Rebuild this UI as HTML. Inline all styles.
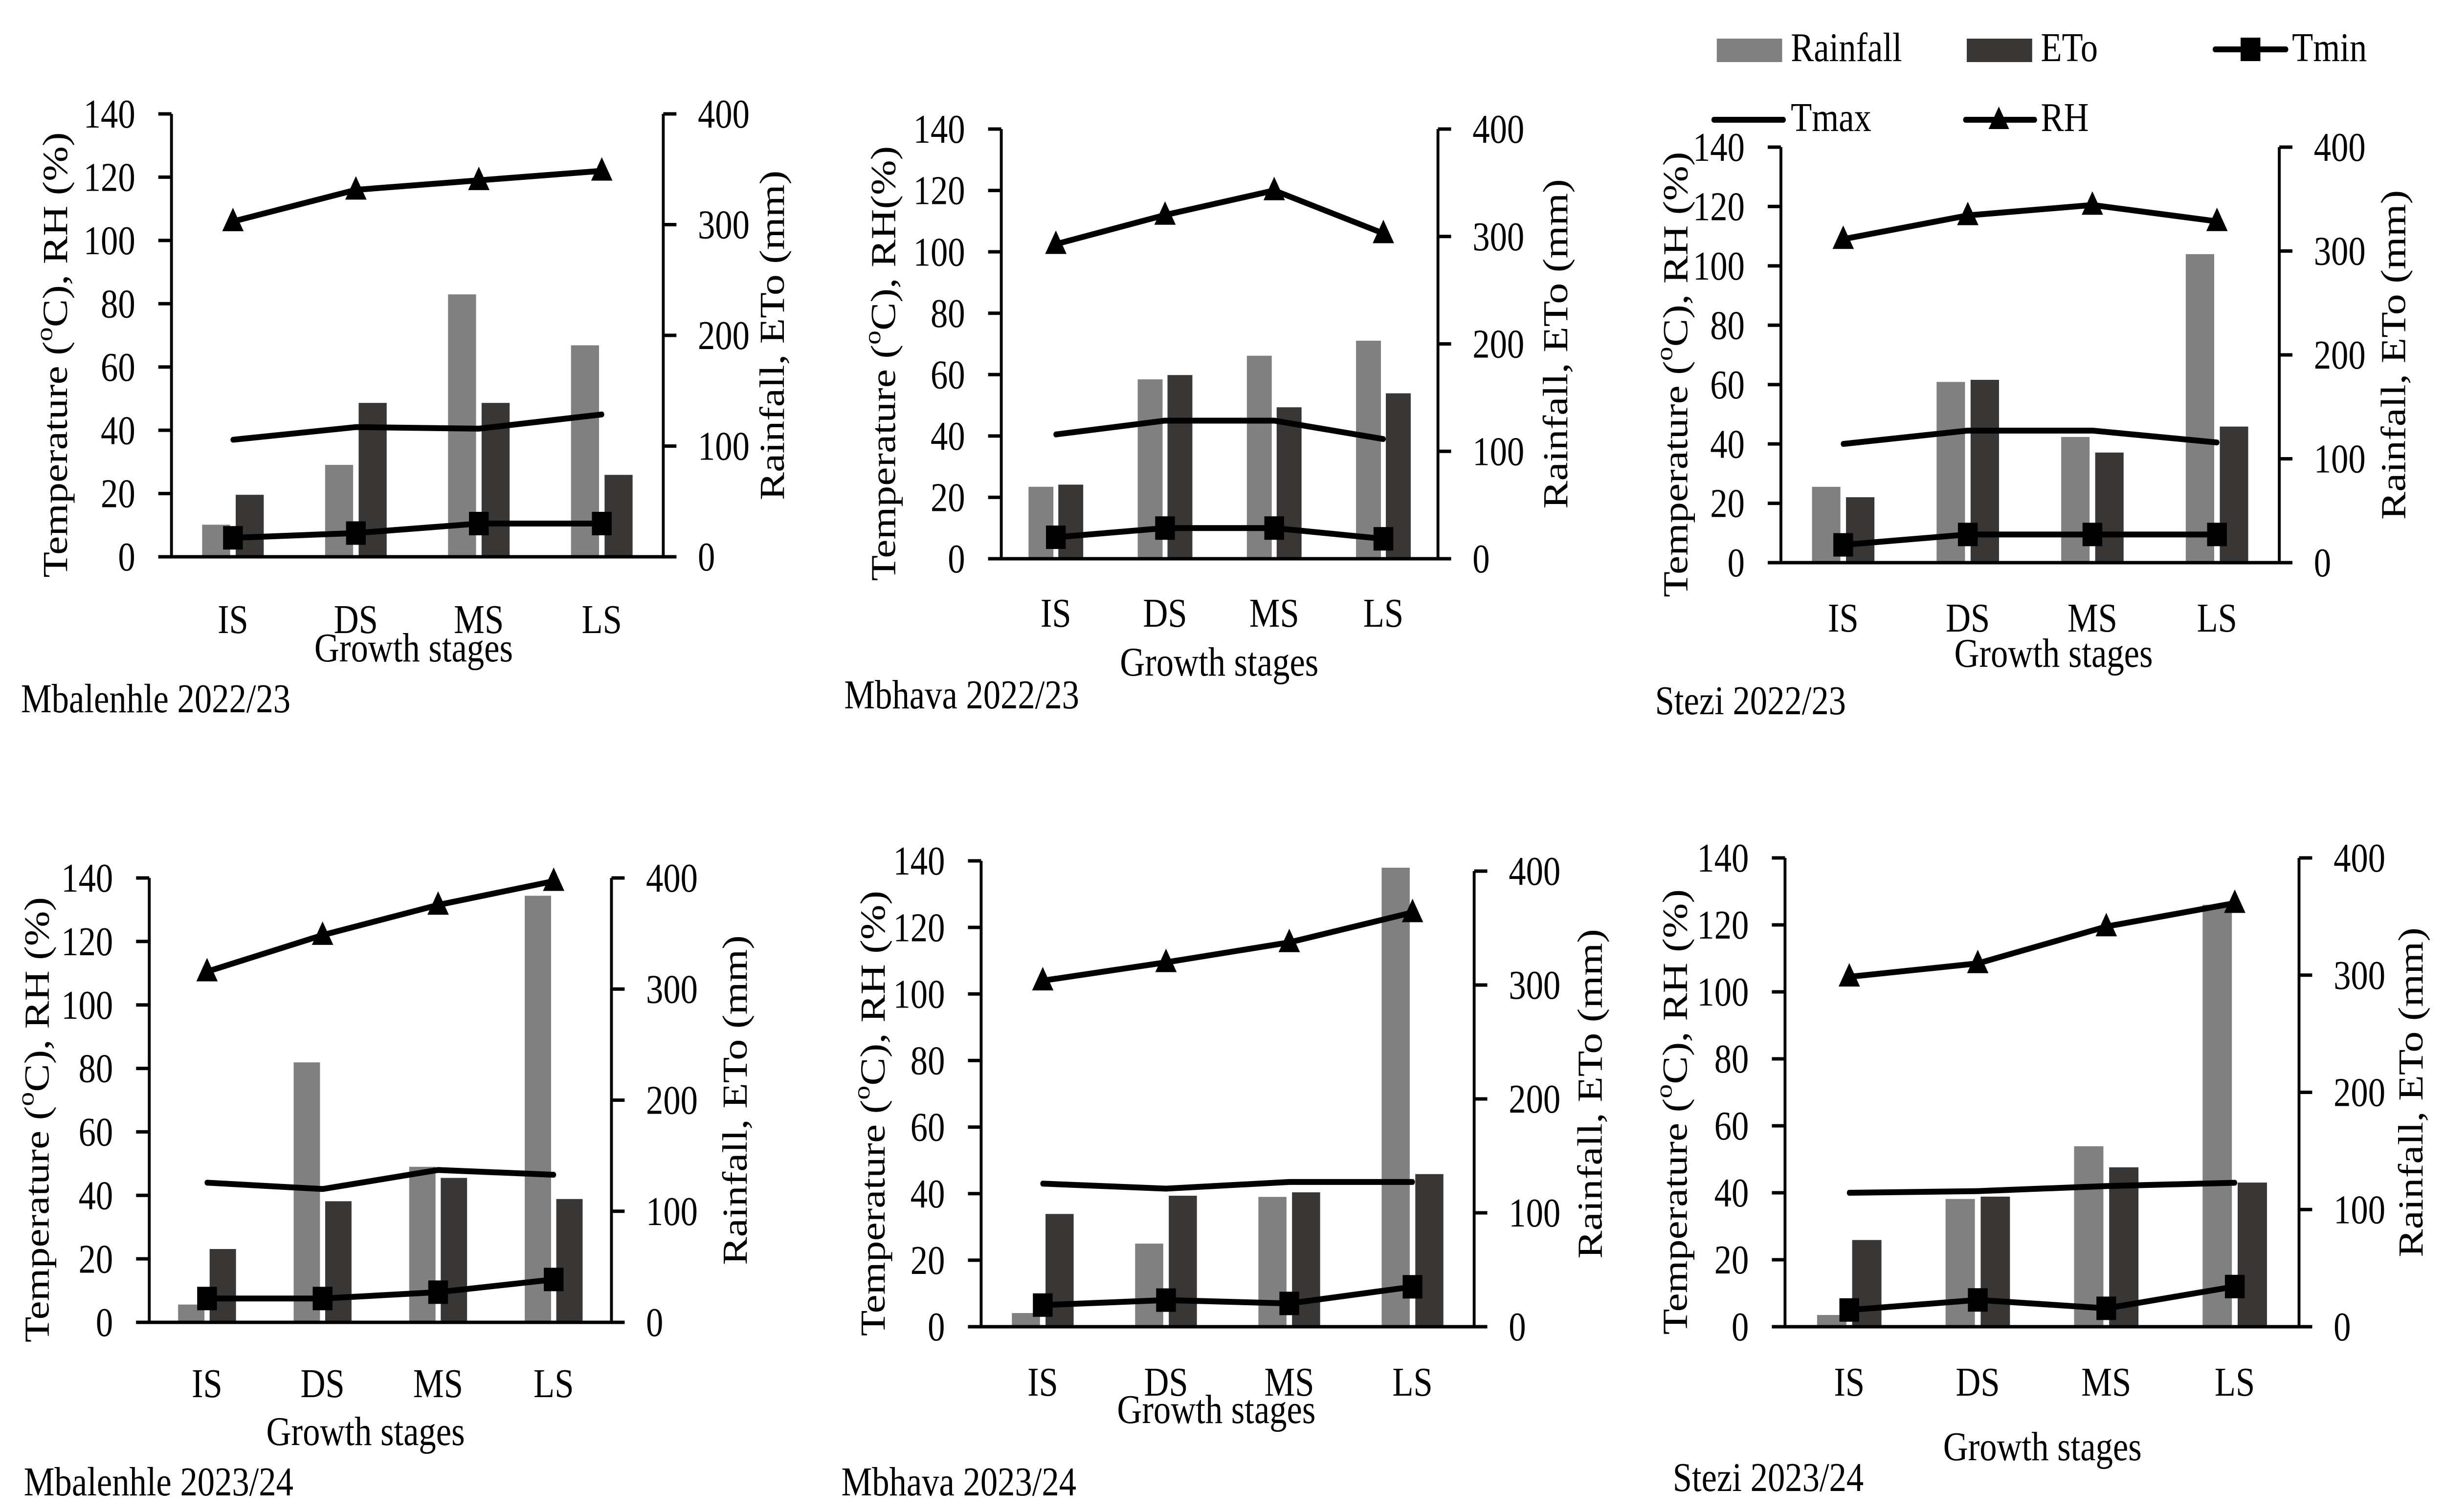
<!DOCTYPE html>
<html><head><meta charset="utf-8"><style>html,body{margin:0;padding:0;background:#fff;width:100%;height:100%;overflow:hidden}svg{display:block;width:100vw;height:100vh}text{font-family:"Liberation Serif",serif;fill:#000}</style></head>
<body>
<svg id="fig" xmlns="http://www.w3.org/2000/svg" viewBox="0 0 5946 3093" preserveAspectRatio="none">
<rect width="5946" height="3093" fill="#fff"/>
<g id="legend">
 <rect x="4175" y="79" width="159" height="48" fill="#808080"/>
 <text x="4355" y="125" font-size="84">Rainfall</text>
 <rect x="4783" y="79" width="159" height="48" fill="#383735"/>
 <text x="4963" y="125" font-size="84">ETo</text>
 <line x1="5387" y1="101" x2="5559" y2="101" stroke="#000" stroke-width="12" stroke-linecap="round"/>
 <rect x="5449" y="77" width="48" height="48" fill="#000"/>
 <text x="5574" y="125" font-size="84">Tmin</text>
 <line x1="4168" y1="245" x2="4337" y2="245" stroke="#000" stroke-width="12" stroke-linecap="round"/>
 <text x="4355" y="268" font-size="84">Tmax</text>
 <line x1="4780" y1="245" x2="4948" y2="245" stroke="#000" stroke-width="12" stroke-linecap="round"/>
 <polygon points="4861,218 4886,264 4836,264" fill="#000"/>
 <text x="4963" y="268" font-size="84">RH</text>
</g>
</svg>
<script>
const categories = ["IS","DS","MS","LS"];
const leftTicks = [0,20,40,60,80,100,120,140];
const rightTicks = [0,100,200,300,400];
// Panel 1 Mbalenhle 2022/23
const rain1 = [29,83,237,191];
const eto1 = [56,139,139,74];
const tmax1 = [37,41,40.5,45];
const tmin1 = [6,7.5,10.5,10.5];
const rh1 = [106,116,119,122];
// Panel 2 Mbhava 2022/23
const rain2 = [67,167,189,203];
const eto2 = [69,171,141,154];
const tmax2 = [40.5,45,45,39];
const tmin2 = [7,10,10,6.5];
const rh2 = [102.5,112,120,106];
// Panel 3 Stezi 2022/23
const rain3 = [73,174,121,297];
const eto3 = [63,176,106,131];
const tmax3 = [40,44.5,44.5,40.5];
const tmin3 = [6,9.5,9.5,9.5];
const rh3 = [109,117,120.5,115];
// Panel 4 Mbalenhle 2023/24
const rain4 = [16,234,140,384];
const eto4 = [66,109,130,111];
const tmax4 = [44,42,48,46.5];
const tmin4 = [7.5,7.5,9.5,13.5];
const rh4 = [110.5,122,131.5,139];
// Panel 5 Mbhava 2023/24
const rain5 = [12,73,114,403];
const eto5 = [99,115,118,134];
const tmax5 = [43,41.5,43.5,43.5];
const tmin5 = [6.5,8,7,12];
const rh5 = [104,109.5,115.5,124.5];
// Panel 6 Stezi 2023/24
const rain6 = [10,109,154,360];
const eto6 = [74,111,136,123];
const tmax6 = [40,40.5,42,43];
const tmin6 = [5,8,5.5,12];
const rh6 = [104.5,108.5,119.5,126.5];

const panels = [
 {id:"mbalenhle-2022",label:"Mbalenhle 2022/23",ytitle:"RH (%)",L:417,R:1613,T:233,B:1139,RT:233,yt:135,rt:1878,xl:1267,gs:1325,gsx:1006,lx:51,ly:1429,d:[rain1,eto1,tmax1,tmin1,rh1]},
 {id:"mbhava-2022",label:"Mbhava 2022/23",ytitle:"RH(%)",L:2435,R:3497,T:264,B:1143,RT:264,yt:2149,rt:3783,xl:1254,gs:1354,gsx:2965,lx:2053,ly:1421,d:[rain2,eto2,tmax2,tmin2,rh2]},
 {id:"stezi-2022",label:"Stezi 2022/23",ytitle:"RH (%)",L:4331,R:5543,T:301,B:1151,RT:301,yt:4075,rt:5821,xl:1264,gs:1336,gsx:4994,lx:4025,ly:1433,d:[rain3,eto3,tmax3,tmin3,rh3]},
 {id:"mbalenhle-2023",label:"Mbalenhle 2023/24",ytitle:"RH (%)",L:363,R:1487,T:1796,B:2705,RT:1796,yt:90,rt:1788,xl:2830,gs:2928,gsx:889,lx:58,ly:3031,d:[rain4,eto4,tmax4,tmin4,rh4]},
 {id:"mbhava-2023",label:"Mbhava 2023/24",ytitle:"RH (%)",L:2386,R:3585,T:1761,B:2714,RT:1782,yt:2123,rt:3867,xl:2827,gs:2883,gsx:2958,lx:2046,ly:3031,d:[rain5,eto5,tmax5,tmin5,rh5]},
 {id:"stezi-2023",label:"Stezi 2023/24",ytitle:"RH (%)",L:4341,R:5591,T:1755,B:2714,RT:1755,yt:4074,rt:5863,xl:2827,gs:2959,gsx:4967,lx:4068,ly:3022,d:[rain6,eto6,tmax6,tmin6,rh6]}
];
const NS="http://www.w3.org/2000/svg";
const svg=document.getElementById("fig");
function mk(tag,attrs,parent){const e=document.createElementNS(NS,tag);for(const k in attrs)e.setAttribute(k,attrs[k]);parent.appendChild(e);return e;}
panels.forEach(p=>{
 const g=mk("g",{},svg);
 
 
 const yL=v=>p.B-(v/140)*(p.B-p.T);
 const yR=v=>p.B-(v/400)*(p.B-p.RT);
 const cw=(p.R-p.L)/4;
 const xC=i=>p.L+cw*(i+0.5);
 const bw=cw*0.228, gap=cw*0.045;
 p.d[0].forEach((v,i)=>{
  const r=mk("rect",{x:xC(i)-gap/2-bw,y:yR(v),width:bw,height:p.B-yR(v),fill:"#808080"},g);
  
  
 });
 p.d[1].forEach((v,i)=>{
  const r=mk("rect",{x:xC(i)+gap/2,y:yR(v),width:bw,height:p.B-yR(v),fill:"#383735"},g);
  
  
 });
 const la=mk("line",{x1:p.L,y1:p.T,x2:p.L,y2:p.B,stroke:"#000","stroke-width":7},g);
 
 
 const ra=mk("line",{x1:p.R,y1:p.RT,x2:p.R,y2:p.B,stroke:"#000","stroke-width":7},g);
 
 
 const xa=mk("line",{x1:p.L-32,y1:p.B,x2:p.R+32,y2:p.B,stroke:"#000","stroke-width":7},g);
 
 
 leftTicks.forEach(v=>{
  const t=mk("line",{x1:p.L-32,y1:yL(v),x2:p.L,y2:yL(v),stroke:"#000","stroke-width":7},g);
  
  
  const tx=mk("text",{x:p.L-88,y:yL(v),"font-size":84,"text-anchor":"end","dominant-baseline":"central"},g);
  tx.textContent=v;
  
  
 });
 rightTicks.forEach(v=>{
  const t=mk("line",{x1:p.R,y1:yR(v),x2:p.R+32,y2:yR(v),stroke:"#000","stroke-width":7},g);
  
  
  const tx=mk("text",{x:p.R+84,y:yR(v),"font-size":84,"dominant-baseline":"central"},g);
  tx.textContent=v;
  
  
 });
 categories.forEach((c,i)=>{
  const tx=mk("text",{x:xC(i),y:p.xl,"font-size":84,"text-anchor":"middle","dominant-baseline":"central"},g);
  tx.textContent=c;
  
  
 });
 function series(vals,name,marker){
  const pts=vals.map((v,i)=>xC(i)+","+yL(v)).join(" ");
  const pl=mk("polyline",{points:pts,fill:"none",stroke:"#000","stroke-width":12,"stroke-linejoin":"round","stroke-linecap":"round"},g);
  
  
  vals.forEach((v,i)=>{
   const x=xC(i),y=yL(v);
   let m=null;
   if(marker==="square") m=mk("rect",{x:x-24,y:y-24,width:48,height:48,fill:"#000"},g);
   if(marker==="tri") m=mk("polygon",{points:`${x},${y-28} ${x+26},${y+20} ${x-26},${y+20}`,fill:"#000"},g);
   if(m){
    
    
   }
  });
 }
 series(p.d[2],"tmax",null);
 series(p.d[3],"tmin","square");
 series(p.d[4],"rh","tri");
 const my=(p.T+p.B)/2;
 const yt=mk("text",{x:p.yt,y:my+40,"font-size":86,"text-anchor":"middle","dominant-baseline":"central",transform:`rotate(-90 ${p.yt} ${my+40})`},g);
 yt.innerHTML='Temperature (<tspan font-size="58" dy="-28">o</tspan><tspan dy="28">C), '+p.ytitle+'</tspan>';
 
 
 const rt=mk("text",{x:p.rt,y:my,"font-size":86,"text-anchor":"middle","dominant-baseline":"central",transform:`rotate(-90 ${p.rt} ${my})`},g);
 rt.textContent="Rainfall, ETo (mm)";
 
 
 const gs=mk("text",{x:p.gsx,y:p.gs,"font-size":84,"text-anchor":"middle","dominant-baseline":"central"},g);
 gs.textContent="Growth stages";
 
 
 const lb=mk("text",{x:p.lx,y:p.ly,"font-size":84,"dominant-baseline":"central"},g);
 lb.textContent=p.label;
 
 
});
</script>
</body></html>
